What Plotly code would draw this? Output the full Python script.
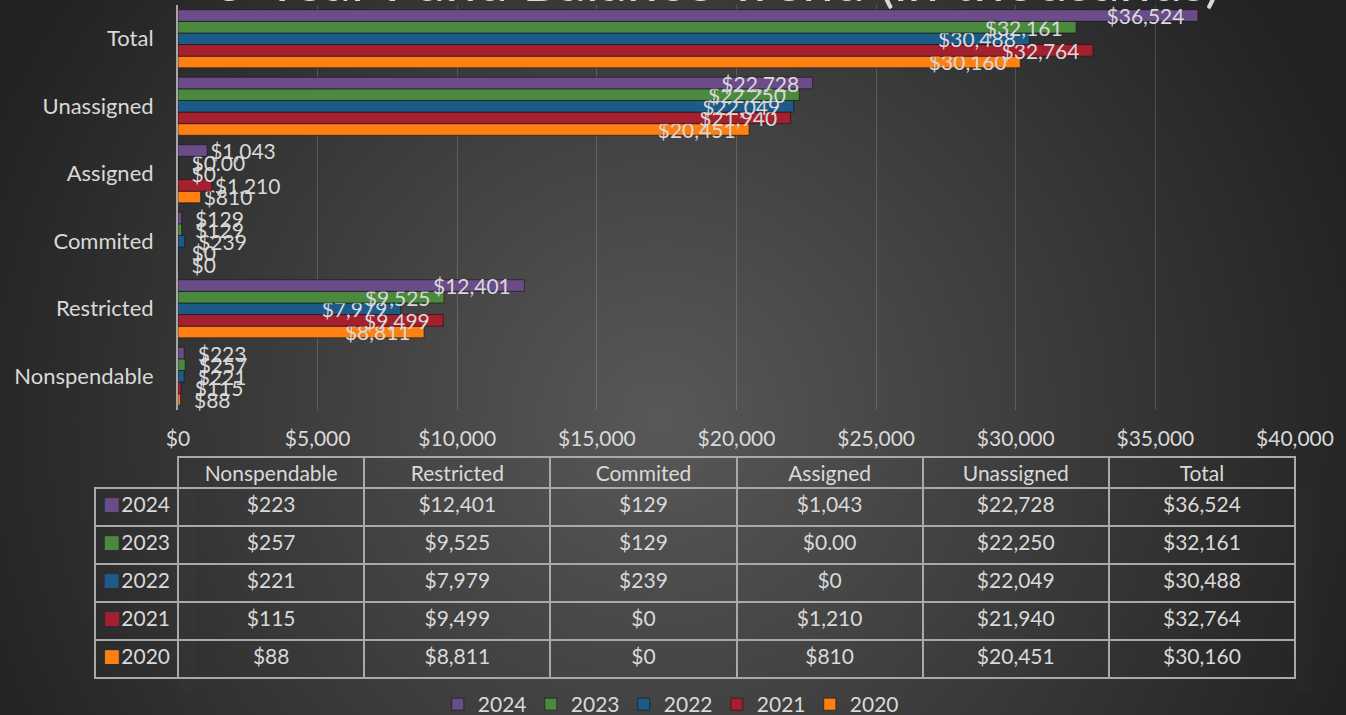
import base64
import plotly.graph_objects as go

# fund balance by category, in thousands of dollars
categories = ["Nonspendable", "Restricted", "Commited", "Assigned", "Unassigned", "Total"]
years = ["2024", "2023", "2022", "2021", "2020"]
values_2024 = [223, 12401, 129, 1043, 22728, 36524]
values_2023 = [257, 9525, 129, 0.00, 22250, 32161]
values_2022 = [221, 7979, 239, 0, 22049, 30488]
values_2021 = [115, 9499, 0, 1210, 21940, 32764]
values_2020 = [88, 8811, 0, 810, 20451, 30160]
x_ticks = [0, 5000, 10000, 15000, 20000, 25000, 30000, 35000, 40000]

# the one value the source prints with cents
label_overrides = {("2023", "Assigned"): "$0.00"}

series = {
    "2024": values_2024,
    "2023": values_2023,
    "2022": values_2022,
    "2021": values_2021,
    "2020": values_2020,
}
colors = {
    "2024": "#6a4d88",
    "2023": "#4b8a3e",
    "2022": "#1d5a87",
    "2021": "#a5202f",
    "2020": "#ff8012",
}

FONT = "Lato, Carlito, Calibri, sans-serif"
TXT = "#d9d9d9"
W, H = 1346, 715


def money(year, cat, v):
    return label_overrides.get((year, cat), f"${v:,.0f}")


# dark radial background as an svg image
bg_svg = f"""<svg xmlns='http://www.w3.org/2000/svg' width='{W}' height='{H}'>
<defs><radialGradient id='g' gradientUnits='userSpaceOnUse' cx='660' cy='420' r='720'>
<stop offset='0' stop-color='#585858'/><stop offset='1' stop-color='#232323'/>
</radialGradient></defs><rect width='{W}' height='{H}' fill='url(#g)'/></svg>"""
bg_uri = "data:image/svg+xml;base64," + base64.b64encode(bg_svg.encode()).decode()

fig = go.Figure()

# plotly stacks grouped h-bars bottom-up, so add the oldest year first
for year in reversed(years):
    vals = series[year]
    text, pos = [], []
    for cat, v in zip(categories, vals):
        lab = money(year, cat, v)
        if v >= 3000:
            text.append(lab + "\u2002")
            pos.append("inside")
        elif v < 500:
            text.append("\u2002" + lab)
            pos.append("outside")
        else:
            text.append(lab)
            pos.append("outside")
    fig.add_trace(go.Bar(
        y=categories,
        x=vals,
        orientation="h",
        name=year,
        marker=dict(color=colors[year], line=dict(color="rgba(15,15,15,0.55)", width=1)),
        text=text,
        textposition=pos,
        insidetextanchor="end",
        constraintext="none",
        textfont=dict(family=FONT, size=21, color=TXT),
        insidetextfont=dict(family=FONT, size=21, color=TXT),
        outsidetextfont=dict(family=FONT, size=21, color=TXT),
        cliponaxis=False,
        hoverinfo="skip",
    ))

# data table under the chart
cols = [years]
for i, cat in enumerate(categories):
    cols.append([money(y, cat, series[y][i]) for y in years])

line_col = "#a9a9a9"
table_y = [0.03, (H - 457) / H]
fig.add_trace(go.Table(
    domain=dict(x=[95 / W, 1295 / W], y=table_y),
    columnwidth=[83] + [186] * len(categories),
    header=dict(
        values=[""] + categories,
        height=31,
        fill=dict(color="rgba(0,0,0,0)"),
        line=dict(color=["rgba(0,0,0,0)"] + [line_col] * len(categories), width=2),
        font=dict(family=FONT, size=21, color=TXT),
        align="center",
    ),
    cells=dict(
        values=cols,
        height=38,
        fill=dict(color="rgba(0,0,0,0)"),
        line=dict(color=line_col, width=2),
        font=dict(family=FONT, size=21, color=TXT),
        align=["right"] + ["center"] * len(categories),
    ),
))

# coloured key squares for the row headers, laid over the first column
fig.add_trace(go.Table(
    domain=dict(x=[95 / W, 178 / W], y=table_y),
    header=dict(
        values=[""], height=31,
        fill=dict(color="rgba(0,0,0,0)"),
        line=dict(color="rgba(0,0,0,0)", width=0),
    ),
    cells=dict(
        values=[["\u25a0"] * len(years)],
        height=38,
        fill=dict(color="rgba(0,0,0,0)"),
        line=dict(color="rgba(0,0,0,0)", width=0),
        font=dict(family="DejaVu Sans", size=18, color=[[colors[y] for y in years]]),
        align="left",
    ),
))

# title sits mostly above the page edge, as in the source
fig.add_annotation(
    text="5-Year Fund Balance Trend (in thousands)",
    xref="paper", yref="paper", x=717 / W, y=1,
    xanchor="center", yanchor="bottom", yshift=-15,
    showarrow=False,
    font=dict(family=FONT, size=56, color=TXT),
)

fig.update_layout(
    width=W, height=H,
    margin=dict(l=0, r=0, t=0, b=0, autoexpand=False),
    paper_bgcolor="#333333",
    plot_bgcolor="rgba(0,0,0,0)",
    barmode="group",
    bargap=0.14,
    bargroupgap=0,
    font=dict(family=FONT, size=21, color=TXT),
    images=[dict(source=bg_uri, xref="paper", yref="paper", x=0, y=1,
                 sizex=1, sizey=1, sizing="stretch", layer="below")],
    xaxis=dict(
        domain=[178 / W, 1295 / W],
        range=[0, 40000],
        tickvals=x_ticks,
        ticktext=[f"${t:,}" for t in x_ticks],
        showgrid=True, gridcolor="rgba(255,255,255,0.16)", gridwidth=1,
        zeroline=False, showline=False, ticks="",
        ticklabelstandoff=14,
        tickfont=dict(family=FONT, size=21, color=TXT),
        automargin=False,
        fixedrange=True,
    ),
    yaxis=dict(
        domain=[(H - 410) / H, (H - 5) / H],
        categoryorder="array", categoryarray=categories,
        showline=True, linecolor="#a6a6a6", linewidth=2,
        showgrid=False, ticks="",
        ticklabelstandoff=18,
        tickfont=dict(family=FONT, size=22, color=TXT),
        automargin=False,
        fixedrange=True,
    ),
    legend=dict(
        orientation="h", x=0.498, xanchor="center", y=-0.014, yanchor="bottom",
        traceorder="reversed", entrywidth=48,
        font=dict(family=FONT, size=21, color=TXT),
        bgcolor="rgba(0,0,0,0)",
    ),
)

fig.write_html("out.html", config={"displayModeBar": False},
               post_script="document.body.style.margin='0';")
